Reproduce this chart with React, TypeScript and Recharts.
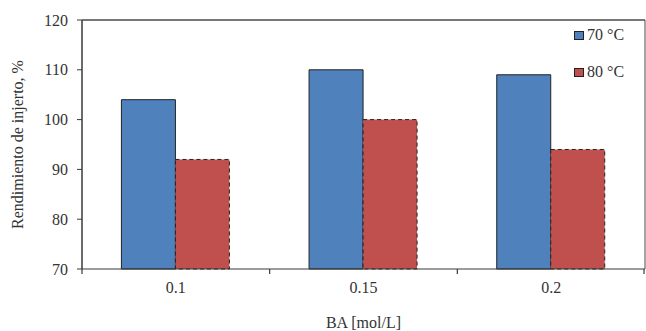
import { BarChart, Bar, XAxis, YAxis, Legend, ReferenceLine } from "recharts";

const categories = ["0.1", "0.15", "0.2"];
const series70 = [104, 110, 109];
const series80 = [92, 100, 94];
const yTicks = [70, 80, 90, 100, 110, 120];

const data = categories.map((c, i) => ({ ba: c, t70: series70[i], t80: series80[i] }));

const FONT = "'Liberation Serif', 'Times New Roman', serif";
const TEXT = "#333333";
const AXIS = "#3a3a3a";
const FRAME = "#4a4a4a";
const TICK_SIZE = 5;
const TICK_MARGIN = 8;

function LegendBox({ payload }: { payload?: { value: string; color: string }[] }) {
  if (!payload) return null;
  return (
    <div style={{ fontFamily: FONT, fontSize: 16, color: TEXT }}>
      {payload.map((p, i) => (
        <div
          key={p.value}
          style={{ display: "flex", alignItems: "center", height: 20, marginBottom: i === 0 ? 17 : 0 }}
        >
          <span
            style={{
              display: "inline-block",
              width: 8,
              height: 7,
              background: p.color,
              border: "1px solid #222",
              marginRight: 3,
            }}
          />
          <span>{p.value}</span>
        </div>
      ))}
    </div>
  );
}

// label plus Excel-style tick marks on the category boundaries
function BoundaryTick(props: any) {
  const { x, y, payload, index, visibleTicksCount } = props;
  const half = typeof payload?.offset === "number" && payload.offset > 0 ? payload.offset : 0;
  const axisY = y - TICK_SIZE - TICK_MARGIN;
  const isLast = index === visibleTicksCount - 1;
  return (
    <g>
      {half > 0 && (
        <line x1={x - half} x2={x - half} y1={axisY} y2={axisY + TICK_SIZE} stroke={AXIS} strokeWidth={1.2} />
      )}
      {half > 0 && isLast && (
        <line x1={x + half - 1} x2={x + half - 1} y1={axisY} y2={axisY + TICK_SIZE} stroke={AXIS} strokeWidth={1.2} />
      )}
      <text x={x} y={y} dy="0.71em" textAnchor="middle" fontFamily={FONT} fontSize={16} fill={TEXT}>
        {payload.value}
      </text>
    </g>
  );
}

export default function App() {
  return (
    <div style={{ position: "absolute", left: 0, top: 0, width: 646, height: 331, background: "#fff" }}>
      <BarChart
        width={646}
        height={331}
        data={data}
        margin={{ top: 19, right: 0, bottom: 0, left: 10 }}
        barGap={0}
        barCategoryGap="21%"
      >
        <XAxis
          dataKey="ba"
          height={62}
          tickLine={{ stroke: "none" }}
          axisLine={{ stroke: AXIS, strokeWidth: 1.2 }}
          tickSize={TICK_SIZE}
          tickMargin={TICK_MARGIN}
          tick={<BoundaryTick />}
          label={{
            value: "BA [mol/L]",
            position: "insideBottom",
            offset: 3,
            style: { fontFamily: FONT, fontSize: 16, fill: TEXT },
          }}
        />
        {/* top edge of the plot frame */}
        <XAxis
          xAxisId="top"
          orientation="top"
          dataKey="ba"
          height={1}
          tick={false}
          tickLine={false}
          axisLine={{ stroke: FRAME }}
        />
        <YAxis
          domain={[70, 120]}
          ticks={yTicks}
          width={72}
          tickSize={5}
          tickMargin={9}
          tickLine={{ stroke: AXIS }}
          axisLine={{ stroke: AXIS, strokeWidth: 1.5 }}
          tick={{ fontFamily: FONT, fontSize: 16, fill: TEXT }}
          label={{
            value: "Rendimiento de injerto, %",
            angle: -90,
            position: "insideLeft",
            offset: 7,
            style: { textAnchor: "middle", fontFamily: FONT, fontSize: 16, fill: TEXT },
          }}
        />
        {/* right edge of the plot frame */}
        <YAxis
          yAxisId="r"
          orientation="right"
          domain={[70, 120]}
          ticks={yTicks}
          width={1}
          tick={false}
          tickLine={false}
          axisLine={{ stroke: FRAME }}
        />
        <ReferenceLine y={120} stroke={FRAME} />
        <Legend
          layout="horizontal"
          align="center"
          verticalAlign="middle"
          wrapperStyle={{ top: 25, left: 574, width: 70 }}
          content={(props: any) => <LegendBox payload={props.payload} />}
        />
        <Bar
          dataKey="t70"
          name="70 °C"
          fill="#4F81BD"
          stroke="#222"
          strokeWidth={1}
          isAnimationActive={false}
        />
        <Bar
          dataKey="t80"
          name="80 °C"
          fill="#C0504D"
          stroke="#222"
          strokeWidth={1}
          strokeDasharray="4 3"
          isAnimationActive={false}
        />
      </BarChart>
    </div>
  );
}
